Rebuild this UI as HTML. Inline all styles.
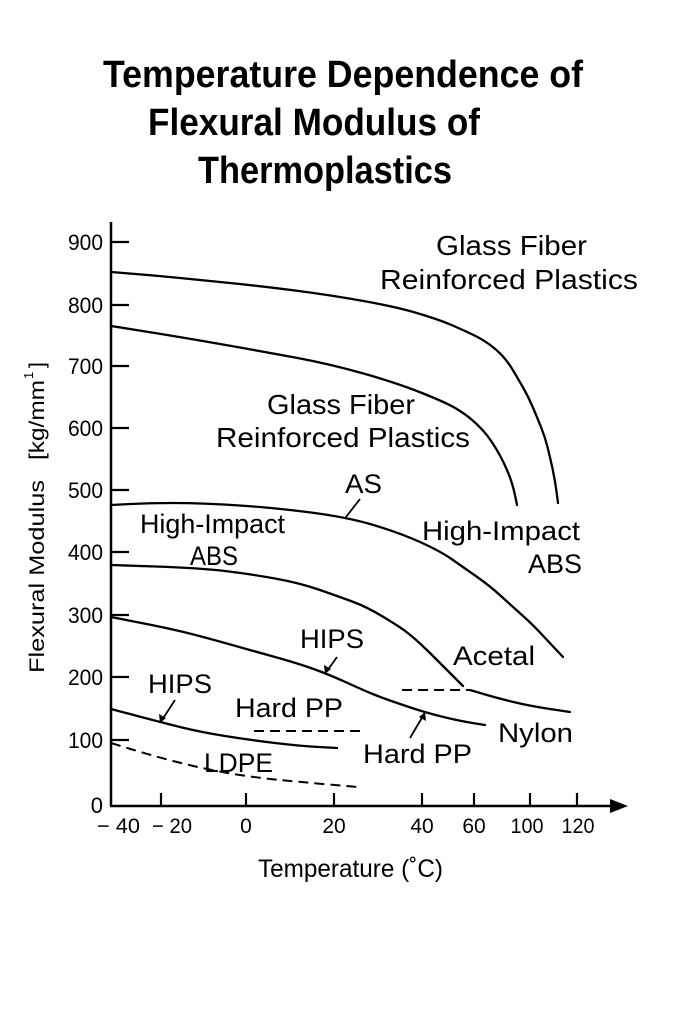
<!DOCTYPE html>
<html>
<head>
<meta charset="utf-8">
<style>
  html, body { margin: 0; padding: 0; background: #ffffff; }
  svg { display: block; }
  text { font-family: "Liberation Sans", "DejaVu Sans", sans-serif; fill: #000; }
</style>
</head>
<body>
<svg width="683" height="1024" viewBox="0 0 683 1024" xmlns="http://www.w3.org/2000/svg">
  <rect width="683" height="1024" fill="#fff"/>

  <!-- Title -->
  <g font-weight="700" font-size="38">
    <text x="103" y="87" textLength="480" lengthAdjust="spacingAndGlyphs">Temperature Dependence of</text>
    <text x="148" y="135" textLength="332" lengthAdjust="spacingAndGlyphs">Flexural Modulus of</text>
    <text x="198" y="183" textLength="254" lengthAdjust="spacingAndGlyphs">Thermoplastics</text>
  </g>

  <!-- Axes -->
  <g stroke="#000" stroke-width="2.5" fill="none">
    <line x1="111" y1="222" x2="111" y2="806"/>
    <line x1="110" y1="806" x2="612" y2="806"/>
  </g>
  <polygon points="610,799 628,806 610,813" fill="#000"/>

  <!-- Y ticks -->
  <g stroke="#000" stroke-width="2.2">
    <line x1="111" y1="242" x2="129" y2="242"/>
    <line x1="111" y1="305" x2="129" y2="305"/>
    <line x1="111" y1="366" x2="129" y2="366"/>
    <line x1="111" y1="428" x2="129" y2="428"/>
    <line x1="111" y1="490" x2="129" y2="490"/>
    <line x1="111" y1="552" x2="129" y2="552"/>
    <line x1="111" y1="615" x2="129" y2="615"/>
    <line x1="111" y1="677" x2="129" y2="677"/>
    <line x1="111" y1="740" x2="129" y2="740"/>
  </g>
  <!-- X ticks -->
  <g stroke="#000" stroke-width="2.2">
    <line x1="161" y1="793" x2="161" y2="806"/>
    <line x1="246" y1="793" x2="246" y2="806"/>
    <line x1="334" y1="793" x2="334" y2="806"/>
    <line x1="422" y1="793" x2="422" y2="806"/>
    <line x1="474" y1="793" x2="474" y2="806"/>
    <line x1="530" y1="793" x2="530" y2="806"/>
    <line x1="577" y1="793" x2="577" y2="806"/>
  </g>

  <!-- Y tick labels -->
  <g font-size="22" text-anchor="end">
    <text x="103" y="250" textLength="35" lengthAdjust="spacingAndGlyphs">900</text>
    <text x="103" y="313" textLength="35" lengthAdjust="spacingAndGlyphs">800</text>
    <text x="103" y="374" textLength="35" lengthAdjust="spacingAndGlyphs">700</text>
    <text x="103" y="436" textLength="35" lengthAdjust="spacingAndGlyphs">600</text>
    <text x="103" y="498" textLength="35" lengthAdjust="spacingAndGlyphs">500</text>
    <text x="103" y="560" textLength="35" lengthAdjust="spacingAndGlyphs">400</text>
    <text x="103" y="623" textLength="35" lengthAdjust="spacingAndGlyphs">300</text>
    <text x="103" y="685" textLength="35" lengthAdjust="spacingAndGlyphs">200</text>
    <text x="103" y="748" textLength="35" lengthAdjust="spacingAndGlyphs">100</text>
    <text x="103" y="813">0</text>
  </g>

  <!-- X tick labels -->
  <g font-size="21">
    <text x="97" y="833" textLength="43" lengthAdjust="spacingAndGlyphs">− 40</text>
    <text x="152" y="833" textLength="40" lengthAdjust="spacingAndGlyphs">− 20</text>
    <text x="246" y="833" text-anchor="middle">0</text>
    <text x="334" y="833" text-anchor="middle">20</text>
    <text x="422" y="833" text-anchor="middle">40</text>
    <text x="474" y="833" text-anchor="middle">60</text>
    <text x="527" y="833" text-anchor="middle" textLength="33" lengthAdjust="spacingAndGlyphs">100</text>
    <text x="578" y="833" text-anchor="middle" textLength="33" lengthAdjust="spacingAndGlyphs">120</text>
  </g>

  <!-- Axis titles -->
  <text x="258" y="877" font-size="25" textLength="185" lengthAdjust="spacingAndGlyphs">Temperature (˚C)</text>
  <g transform="translate(44,673) rotate(-90)" font-size="21">
    <text x="0" y="0" textLength="193" lengthAdjust="spacingAndGlyphs">Flexural Modulus</text>
    <text x="213" y="0" textLength="80" lengthAdjust="spacingAndGlyphs">[kg/mm</text>
    <text x="294" y="-11" font-size="13">1</text>
    <text x="305" y="0">]</text>
  </g>

  <!-- Solid curves -->
  <g stroke="#000" stroke-width="2.3" fill="none" stroke-linejoin="round" stroke-linecap="round">
    <path d="M111,272 L135.5,274 Q160,276 180,278 Q200,280 230,283 Q260,286 295,290.5 Q330,295 363.5,301 Q397,307 418.5,313.5 Q440,320 451.5,325 Q463,330 472.5,334.5 Q482,339 489.5,344.5 Q497,350 502.5,356 Q508,362 512.5,369.5 Q517,377 522.5,386.5 Q528,396 532.5,406.5 Q537,417 541,427 Q545,437 547.5,447 Q550,457 552.5,468.5 Q555,480 556.5,491.5 L558,503"/>
    <path d="M111,326 L145.5,331.5 Q180,337 220,344 Q260,351 295,357.5 Q330,364 363.5,373.5 Q397,383 422,393 Q447,403 456,408.5 Q465,414 471,419 Q477,424 482.5,430 Q488,436 492.5,443 Q497,450 500.5,456.5 Q504,463 507,470 Q510,477 512,483.5 Q514,490 515.5,497.5 L517,505"/>
    <path d="M111,505 L130.5,504 Q150,503 173.5,503 Q197,503 232,505 Q267,507 307,512 Q347,517 373.5,525 Q400,533 420,542 Q440,551 451.5,559 Q463,567 476.5,576.5 Q490,586 501.5,596.5 Q513,607 522.5,615.5 Q532,624 539.5,632 Q547,640 555,648.5 L563,657"/>
    <path d="M111,565 L155.5,566.5 Q200,568 225,571 Q250,574 275,578.5 Q300,583 320,590 Q340,597 353.5,602 Q367,607 383.5,617 Q400,627 406.5,632 Q413,637 420,643.5 Q427,650 433.5,656.5 Q440,663 446,669 Q452,675 457.5,680.5 L463,686"/>
    <path d="M470,690 L483.5,694 Q497,698 513.5,702 Q530,706 550,709 L570,712"/>
    <path d="M111,617 L139,622.5 Q167,628 183.5,632 Q200,636 225,643 Q250,650 275,657 Q300,664 315,669.5 Q330,675 346.5,682.5 Q363,690 371.5,693.5 Q380,697 388.5,700 Q397,703 412,708 Q427,713 443.5,717 Q460,721 472.5,723 L485,725"/>
    <path d="M111,709 L135.5,715.5 Q160,722 180,727 Q200,732 225,736 Q250,740 275,743 Q300,746 318.5,747 L337,748"/>
  </g>

  <!-- Dashed lines -->
  <g stroke="#000" stroke-width="2" fill="none" stroke-dasharray="10,6">
    <path d="M111,743 L130.5,749 Q150,755 175,761.5 Q200,768 225,772.5 Q250,777 275,779.5 Q300,782 329,784.5 L358,787"/>
    <line x1="254" y1="731" x2="366" y2="731"/>
    <line x1="402" y1="690" x2="470" y2="690"/>
  </g>

  <!-- Pointer lines -->
  <g stroke="#000" stroke-width="1.8" fill="none">
    <line x1="360" y1="499" x2="346" y2="517"/>
    <line x1="337" y1="657" x2="327" y2="671"/>
    <line x1="175" y1="700" x2="162" y2="720"/>
    <line x1="410" y1="738" x2="423" y2="716"/>
  </g>
  <g fill="#000">
    <polygon points="325,674 324,665 331,669"/>
    <polygon points="160,723 159,714 166,718"/>
    <polygon points="425,712 426,721 419,717"/>
  </g>

  <!-- Curve labels -->
  <g font-size="27">
    <text x="436" y="255" font-size="28" textLength="151" lengthAdjust="spacingAndGlyphs">Glass Fiber</text>
    <text x="380" y="289" font-size="28" textLength="258" lengthAdjust="spacingAndGlyphs">Reinforced Plastics</text>
    <text x="267" y="414" font-size="28" textLength="148" lengthAdjust="spacingAndGlyphs">Glass Fiber</text>
    <text x="216" y="447" font-size="28" textLength="254" lengthAdjust="spacingAndGlyphs">Reinforced Plastics</text>
    <text x="345" y="493" textLength="37" lengthAdjust="spacingAndGlyphs">AS</text>
    <text x="140" y="533" textLength="145" lengthAdjust="spacingAndGlyphs">High-Impact</text>
    <text x="190" y="565" textLength="48" lengthAdjust="spacingAndGlyphs">ABS</text>
    <text x="422" y="540" textLength="158" lengthAdjust="spacingAndGlyphs">High-Impact</text>
    <text x="528" y="573" textLength="54" lengthAdjust="spacingAndGlyphs">ABS</text>
    <text x="300" y="648" textLength="64" lengthAdjust="spacingAndGlyphs">HIPS</text>
    <text x="453" y="665" textLength="82" lengthAdjust="spacingAndGlyphs">Acetal</text>
    <text x="148" y="693" textLength="64" lengthAdjust="spacingAndGlyphs">HIPS</text>
    <text x="235" y="717" textLength="108" lengthAdjust="spacingAndGlyphs">Hard PP</text>
    <text x="498" y="742" textLength="75" lengthAdjust="spacingAndGlyphs">Nylon</text>
    <text x="363" y="763" textLength="109" lengthAdjust="spacingAndGlyphs">Hard PP</text>
    <text x="204" y="772" textLength="69" lengthAdjust="spacingAndGlyphs">LDPE</text>
  </g>
</svg>
</body>
</html>
